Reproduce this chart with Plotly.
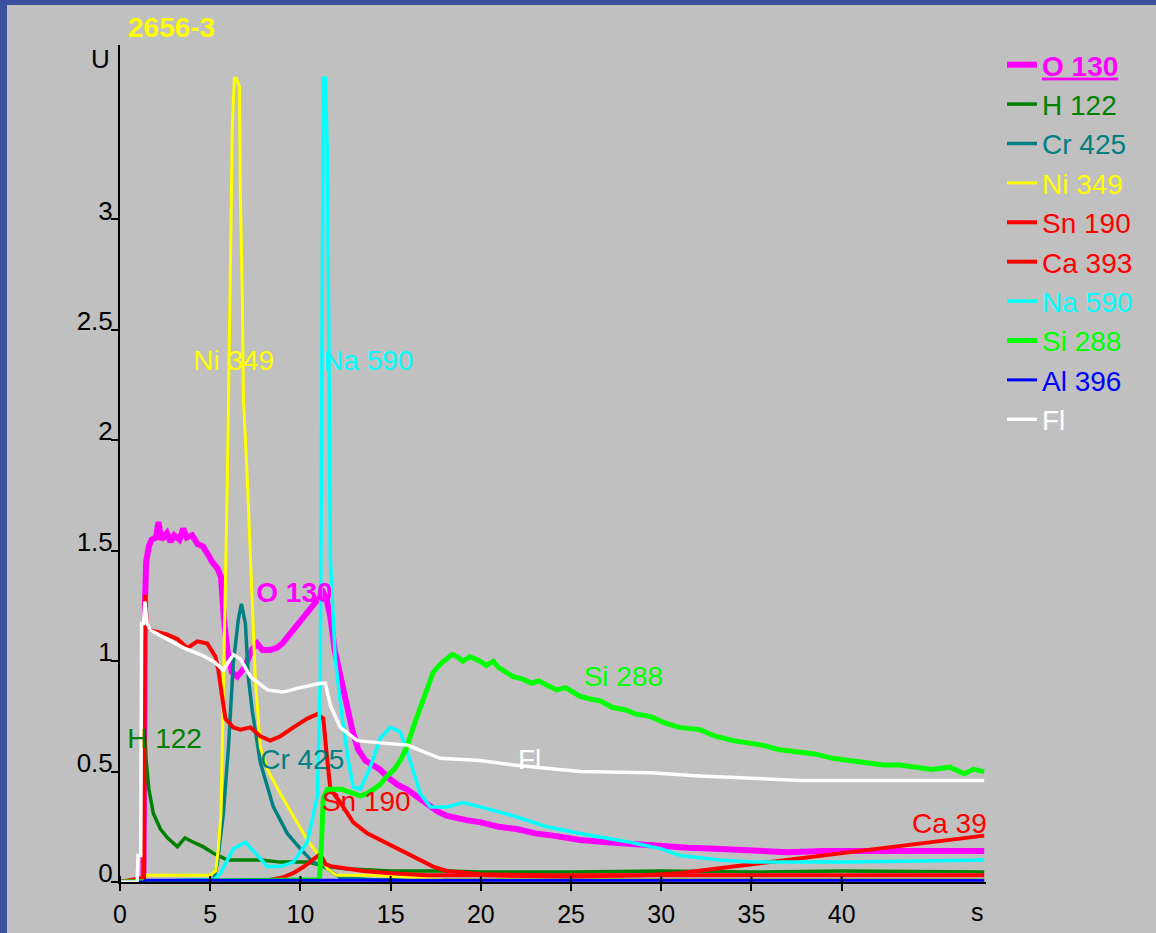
import plotly.graph_objects as go

# ---- time axis (s) and intensity (U) for each emission line ----
o130_t = [0, 1.3, 1.38, 1.45, 1.6, 1.75, 2.0, 2.13, 2.3, 2.6, 2.8, 3.0, 3.3, 3.5, 3.7, 4.0, 4.3, 4.6,
          4.9, 5.1, 5.4, 5.6, 5.75, 5.95, 6.2, 6.5, 6.9, 7.3, 7.6, 7.9, 8.3, 8.7, 9.0, 9.4, 9.8, 10.2,
          10.6, 10.9, 11.1, 11.27, 11.45, 11.66, 11.9, 12.1, 12.35, 12.6, 12.9, 13.2, 13.6, 14.0, 14.4,
          14.9, 15.4, 15.9, 16.4, 16.8, 17.2, 17.6, 18.1, 18.6, 19.2, 20.0, 21.0, 22.0, 23.0, 24.0,
          25.5, 27.0, 28.5, 30.0, 31.5, 33.0, 35.0, 37.0, 39.0, 41.0, 43.0, 45.0, 47.9]
o130_v = [0, 0, 1.25, 1.45, 1.52, 1.55, 1.56, 1.63, 1.55, 1.58, 1.54, 1.57, 1.55, 1.60, 1.56, 1.57,
          1.53, 1.52, 1.48, 1.45, 1.42, 1.38, 1.20, 1.05, 0.95, 0.93, 0.97, 1.05, 1.08, 1.05, 1.05,
          1.06, 1.08, 1.12, 1.16, 1.20, 1.25, 1.27, 1.30, 1.31, 1.28, 1.20, 1.05, 0.97, 0.88, 0.77,
          0.68, 0.60, 0.55, 0.53, 0.51, 0.47, 0.44, 0.42, 0.39, 0.37, 0.34, 0.32, 0.30, 0.29, 0.28,
          0.27, 0.25, 0.24, 0.22, 0.21, 0.19, 0.18, 0.17, 0.16, 0.155, 0.15, 0.14, 0.135, 0.14, 0.14,
          0.14, 0.145, 0.14]

h122_t = [0, 1.3, 1.38, 1.45, 1.6, 1.85, 2.24, 2.63, 3.18, 3.6, 4.07, 4.6, 5.18, 5.95, 6.7, 7.8,
          8.9, 10.4, 11.5, 12.5, 15.0, 18.0, 20.0, 25.0, 30.0, 35.0, 40.0, 47.9]
h122_v = [0, 0, 0.65, 0.55, 0.42, 0.31, 0.24, 0.20, 0.16, 0.20, 0.18, 0.16, 0.13, 0.10, 0.10, 0.10,
          0.09, 0.09, 0.07, 0.06, 0.05, 0.05, 0.045, 0.045, 0.05, 0.045, 0.05, 0.045]

cr425_t = [0, 5.2, 5.4, 5.73, 6.01, 6.28, 6.56, 6.73, 6.95, 7.12, 7.34, 7.78, 8.5, 9.27, 10.0,
           10.7, 11.5, 12.2, 14.0, 20.0, 30.0, 47.9]
cr425_v = [0, 0.01, 0.09, 0.31, 0.61, 0.99, 1.19, 1.26, 1.17, 0.92, 0.77, 0.54, 0.34, 0.22, 0.15,
           0.09, 0.06, 0.02, 0.01, 0.01, 0.01, 0.01]

ni349_t = [0, 1.3, 1.45, 3.0, 5.0, 5.3, 5.45, 5.6, 5.75, 5.95, 6.12, 6.23, 6.34, 6.45, 6.62, 6.67,
           6.78, 6.84, 7.06, 7.34, 7.5, 7.78, 8.17, 8.89, 9.61, 10.38, 10.94, 11.49, 12.0, 14.0,
           16.0, 18.0, 25.0, 35.0, 47.9]
ni349_v = [0, 0, 0.03, 0.03, 0.03, 0.05, 0.15, 0.31, 0.92, 1.82, 2.79, 3.44, 3.64, 3.64, 3.60,
           3.12, 2.65, 2.19, 1.82, 1.29, 0.92, 0.61, 0.51, 0.40, 0.30, 0.19, 0.13, 0.06, 0.03,
           0.03, 0.02, 0.01, 0.01, 0.01, 0.01]

sn190_t = [0, 1.33, 1.38, 1.5, 1.69, 2.24, 2.63, 3.18, 3.74, 4.29, 4.84, 5.29, 5.45, 5.68, 5.84,
           6.28, 6.67, 7.23, 7.78, 8.33, 8.89, 9.61, 10.38, 10.94, 11.16, 11.27, 11.43, 11.66,
           12.21, 12.93, 13.70, 14.42, 15.14, 15.92, 16.64, 17.36, 18.13, 19.96, 23.8, 29.4, 35.0,
           47.9]
sn190_v = [0, 0.02, 1.30, 1.16, 1.14, 1.13, 1.12, 1.10, 1.06, 1.09, 1.08, 1.02, 0.96, 0.83, 0.74,
           0.70, 0.69, 0.70, 0.66, 0.64, 0.66, 0.70, 0.74, 0.76, 0.75, 0.74, 0.60, 0.42, 0.36, 0.27,
           0.22, 0.19, 0.16, 0.13, 0.10, 0.07, 0.05, 0.035, 0.03, 0.03, 0.03, 0.03]

ca393_t = [0, 8.0, 9.0, 9.6, 10.2, 10.7, 11.0, 11.2, 11.4, 11.8, 12.5, 13.5, 15.0, 17.0, 20.0,
           25.0, 29.0, 31.0, 33.0, 35.0, 37.0, 39.0, 41.0, 43.0, 45.0, 47.0, 47.9]
ca393_v = [0, 0.005, 0.02, 0.04, 0.07, 0.10, 0.12, 0.11, 0.08, 0.07, 0.06, 0.05, 0.04, 0.03, 0.03,
           0.025, 0.03, 0.04, 0.06, 0.08, 0.10, 0.12, 0.14, 0.16, 0.18, 0.20, 0.21]

na590_t = [0, 5.2, 5.57, 6.28, 6.95, 7.61, 8.17, 8.89, 9.61, 10.38, 10.94, 11.1, 11.16, 11.21,
           11.27, 11.38, 11.49, 11.6, 11.66, 11.93, 12.32, 12.65, 12.93, 13.32, 13.87, 14.42, 14.98,
           15.53, 16.08, 16.64, 17.2, 18.13, 19.02, 19.96, 21.79, 23.67, 25.5, 28.27, 30.0, 31.04,
           33.25, 35.0, 40.45, 47.9]
na590_v = [0, 0.01, 0.04, 0.15, 0.18, 0.12, 0.07, 0.07, 0.09, 0.18, 0.39, 0.92, 1.80, 2.60, 3.64,
           3.64, 3.30, 2.20, 1.46, 1.01, 0.74, 0.55, 0.43, 0.42, 0.52, 0.65, 0.70, 0.68, 0.55, 0.40,
           0.34, 0.34, 0.36, 0.34, 0.30, 0.25, 0.22, 0.18, 0.15, 0.12, 0.10, 0.09, 0.09, 0.10]

si288_t = [0, 11.05, 11.15, 11.27, 11.5, 11.82, 12.3, 12.6, 13.0, 13.32, 13.7, 14.04, 14.4, 14.81,
           15.2, 15.53, 15.9, 16.25, 16.6, 16.81, 17.0, 17.36, 17.8, 18.13, 18.4, 18.69, 19.0, 19.4,
           19.96, 20.3, 20.68, 21.0, 21.4, 21.79, 22.3, 22.8, 23.2, 23.67, 24.2, 24.7, 25.5, 26.0,
           26.61, 27.3, 28.0, 28.6, 29.38, 30.2, 31.0, 32.14, 33.0, 34.0, 34.91, 35.6, 36.5, 37.68,
           38.5, 39.5, 40.45, 41.5, 42.3, 43.22, 44.0, 45.0, 45.99, 46.8, 47.3, 47.9]
si288_v = [0, 0.01, 0.15, 0.38, 0.42, 0.42, 0.42, 0.41, 0.40, 0.39, 0.40, 0.42, 0.44, 0.48, 0.51,
           0.55, 0.61, 0.70, 0.78, 0.83, 0.88, 0.95, 0.99, 1.01, 1.03, 1.02, 1.00, 1.02, 1.00, 0.98,
           1.00, 0.97, 0.95, 0.93, 0.92, 0.90, 0.91, 0.89, 0.87, 0.88, 0.84, 0.83, 0.82, 0.79, 0.78,
           0.76, 0.75, 0.72, 0.70, 0.69, 0.66, 0.64, 0.63, 0.62, 0.60, 0.59, 0.58, 0.56, 0.55, 0.54,
           0.53, 0.53, 0.52, 0.51, 0.52, 0.49, 0.51, 0.50]

al396_t = [0, 1.3, 1.4, 47.9]
al396_v = [0, 0, 0.008, 0.008]

fl_t = [0, 0.95, 1.0, 1.15, 1.2, 1.3, 1.38, 1.5, 1.69, 2.63, 3.52, 4.46, 5.18, 5.73, 6.28, 6.67,
        7.23, 8.17, 9.05, 9.99, 11.1, 11.38, 11.66, 12.21, 13.15, 14.42, 15.92, 16.81, 17.75,
        19.96, 21.79, 25.5, 29.38, 32.14, 37.68, 47.9]
fl_v = [0, 0, 0.12, 0.12, 1.17, 1.17, 1.27, 1.17, 1.14, 1.10, 1.06, 1.03, 1.00, 0.96, 1.03, 1.01,
        0.93, 0.87, 0.86, 0.88, 0.90, 0.90, 0.80, 0.70, 0.64, 0.63, 0.62, 0.59, 0.56, 0.55, 0.53,
        0.50, 0.495, 0.48, 0.46, 0.46]

# name, times, values, colour, line width
series = [
    ("O 130", o130_t, o130_v, "#ff00ff", 6),
    ("H 122", h122_t, h122_v, "#008000", 3.5),
    ("Cr 425", cr425_t, cr425_v, "#008080", 3.5),
    ("Ni 349", ni349_t, ni349_v, "#ffff00", 3),
    ("Sn 190", sn190_t, sn190_v, "#ff0000", 4),
    ("Ca 393", ca393_t, ca393_v, "#ff0000", 4),
    ("Na 590", na590_t, na590_v, "#00ffff", 3.5),
    ("Si 288", si288_t, si288_v, "#00ff00", 5),
    ("Al 396", al396_t, al396_v, "#0000ff", 3),
    ("Fl", fl_t, fl_v, "#ffffff", 3.5),
]

# in-plot curve labels: text, time, level, colour, anchor
curve_labels = [
    ("<b>O 130</b>", 9.67, 1.30, "#ff00ff", "middle center"),
    ("Ni 349", 6.3, 2.35, "#ffff00", "middle center"),
    ("Na 590", 13.76, 2.35, "#00ffff", "middle center"),
    ("H 122", 2.47, 0.64, "#008000", "middle center"),
    ("Cr 425", 10.1, 0.545, "#008080", "middle center"),
    ("Sn 190", 13.65, 0.351, "#ff0000", "middle center"),
    ("Si 288", 27.9, 0.92, "#00ff00", "middle center"),
    ("Fl", 22.7, 0.545, "#ffffff", "middle center"),
    ("Ca 393", 43.9, 0.255, "#ff0000", "middle right"),
]

x_ticks = [0, 5, 10, 15, 20, 25, 30, 35, 40]
y_ticks = [0, 0.5, 1, 1.5, 2, 2.5, 3]

FONT = "Liberation Sans, Arial, sans-serif"
PANEL = "#c0c0c0"
PLOT_W = 866  # plot area width in px (1156 - left 120 - right 170)
PLOT_H = 837  # plot area height in px (933 - top 45 - bottom 51)

fig = go.Figure()

for name, t, v, col, w in series:
    if name == "O 130":
        label = (f'<span style="color:{col};text-decoration:underline">'
                 f'<b>{name}</b></span>')
    else:
        label = f'<span style="color:{col}">{name}</span>'
    fig.add_trace(go.Scatter(
        x=t, y=v, mode="lines", name=label,
        line=dict(color=col, width=w), legendgroup=name,
    ))

for text, t, v, col, pos in curve_labels:
    fig.add_trace(go.Scatter(
        x=[t], y=[v], mode="text", text=[text], textposition=pos,
        textfont=dict(family=FONT, size=28, color=col),
        showlegend=False, cliponaxis=True, hoverinfo="skip",
    ))

# light-grey panel behind everything, leaving a thin blue frame top and left
shapes = [
    dict(type="rect", xref="paper", yref="paper", layer="below",
         x0=(7 - 120) / PLOT_W, x1=(1160 - 120) / PLOT_W,
         y0=(882 - 945) / PLOT_H, y1=(882 - 5) / PLOT_H,
         fillcolor=PANEL, line=dict(width=0)),
]
# inward half of the time-axis tick marks (the outward half is drawn by the axis)
for tv in x_ticks:
    shapes.append(dict(type="line", xref="x", yref="paper", layer="above",
                       x0=tv, x1=tv, y0=0, y1=6 / PLOT_H,
                       line=dict(color="#000000", width=2)))

fig.update_layout(
    width=1156, height=933,
    margin=dict(l=120, r=170, t=45, b=51, autoexpand=False),
    paper_bgcolor="#3a519f",
    plot_bgcolor=PANEL,
    font=dict(family=FONT, size=24, color="#000000"),
    showlegend=True,
    legend=dict(
        x=(1002 - 120) / PLOT_W, xanchor="left", y=1.006, yanchor="top",
        bgcolor="rgba(0,0,0,0)", borderwidth=0,
        font=dict(family=FONT, size=28),
        tracegroupgap=0,
    ),
    title=dict(
        text="<b>2656-3</b>", x=128 / 1156, xanchor="left",
        y=1 - 27 / 933, yanchor="middle",
        font=dict(family=FONT, size=28, color="#ffff00"),
    ),
    xaxis=dict(
        range=[0, 48], tickvals=x_ticks, ticktext=[str(v) for v in x_ticks],
        showgrid=False, zeroline=False, showline=True, linecolor="#000000", linewidth=2,
        ticks="outside", ticklen=7, tickwidth=2, tickcolor="#000000",
        tickfont=dict(family=FONT, size=25, color="#000000"),
        ticklabelstandoff=2, automargin=False,
    ),
    yaxis=dict(
        range=[0, 3.79], tickvals=y_ticks, ticktext=[f"{v:g}" for v in y_ticks],
        showgrid=False, zeroline=False, showline=True, linecolor="#000000", linewidth=2,
        ticks="outside", ticklen=7, tickwidth=2, tickcolor="#000000",
        tickfont=dict(family=FONT, size=26, color="#000000"),
        ticklabelshift=-9, ticklabelstandoff=-7, automargin=False,
    ),
    shapes=shapes,
    annotations=[
        dict(text="U", xref="paper", yref="paper", x=(100 - 120) / PLOT_W, y=(882 - 59) / PLOT_H,
             showarrow=False, xanchor="center", yanchor="middle",
             font=dict(family=FONT, size=26, color="#000000")),
        dict(text="s", xref="paper", yref="paper", x=(977 - 120) / PLOT_W, y=(882 - 912) / PLOT_H,
             showarrow=False, xanchor="center", yanchor="middle",
             font=dict(family=FONT, size=25, color="#000000")),
    ],
)

fig.write_html("out.html")
